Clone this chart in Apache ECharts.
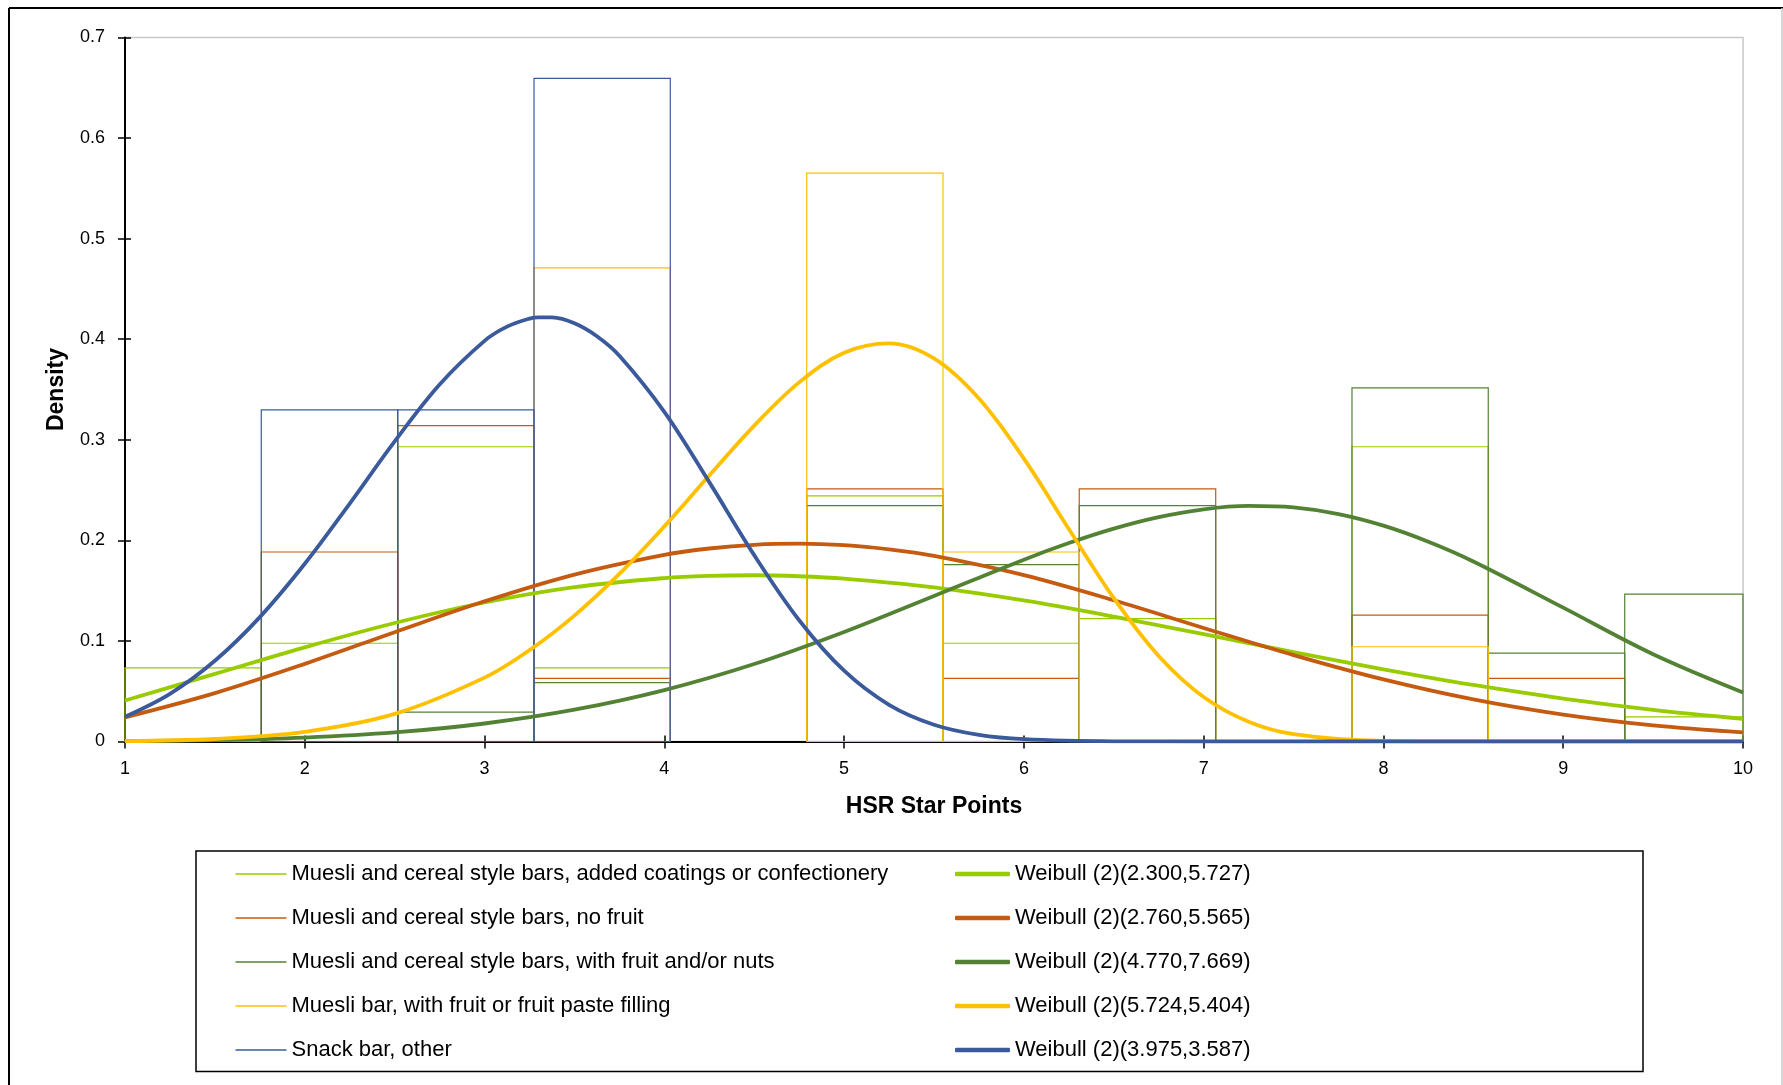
<!DOCTYPE html>
<html><head><meta charset="utf-8">
<script src="https://cdn.jsdelivr.net/npm/echarts@6/dist/echarts.min.js"></script>
<style>html,body{margin:0;padding:0;background:#fff}#c{width:1783px;height:1085px}</style>
</head><body><div id="c"></div>
<script>
// ---- histogram bins (HSR star points) ----
const binEdges = [1, 1.758, 2.517, 3.275, 4.033, 4.792, 5.55, 6.308, 7.067, 7.825, 8.583, 9.342, 10.1];

// ---- histogram densities per bin ----
const histNames = [
  'Muesli and cereal style bars, added coatings or confectionery',
  'Muesli and cereal style bars, no fruit',
  'Muesli and cereal style bars, with fruit and/or nuts',
  'Muesli bar, with fruit or fruit paste filling',
  'Snack bar, other'
];
const coatingsHist = [0.0733, 0.0977, 0.2931, 0.0733, 0, 0.2442, 0.0977, 0.1221, 0, 0.2931, 0, 0.0244];
const noFruitHist  = [0, 0.1884, 0.3140, 0.0628, 0, 0.2512, 0.0628, 0.2512, 0, 0.1256, 0.0628, 0];
const fruitNutHist = [0, 0, 0.0293, 0.0586, 0, 0.2345, 0.1758, 0.2345, 0, 0.3517, 0.0879, 0.1465];
const pasteHist    = [0, 0, 0, 0.4710, 0, 0.5652, 0.1884, 0, 0, 0.0942, 0, 0];
const snackHist    = [0, 0.3297, 0.3297, 0.6594, 0, 0, 0, 0, 0, 0, 0, 0];

// ---- fitted Weibull density curves (x, density) ----
const curveNames = [
  'Weibull (2)(2.300,5.727)',
  'Weibull (2)(2.760,5.565)',
  'Weibull (2)(4.770,7.669)',
  'Weibull (2)(5.724,5.404)',
  'Weibull (2)(3.975,3.587)'
];
const coatingsX = [1,1.5,2,2.5,3,3.5,4,4.25,4.5,4.75,5,5.5,6,6.5,7,7.5,8,8.5,9,9.5,10];
const coatingsCurve = [0.0408,0.0672,0.0936,0.1178,0.1382,0.1534,0.1625,0.1647,0.1653,0.1643,0.1619,0.1532,0.1402,0.1242,0.1067,0.0888,0.0718,0.0562,0.0427,0.0315,0.0226];
const noFruitX = [1,1.5,2,2.5,3,3.5,4,4.25,4.5,4.75,5,5.25,5.5,6,6.5,7,7.5,8,8.5,9,9.5,10];
const noFruitCurve  = [0.0240,0.0481,0.0772,0.1087,0.1394,0.1660,0.1856,0.1919,0.1956,0.1967,0.1952,0.1910,0.1845,0.1654,0.1404,0.1129,0.0859,0.0617,0.0418,0.0267,0.0160,0.0090];
const fruitNutX = [1,1.5,2,2.5,3,3.5,4,4.5,5,5.5,6,6.25,6.5,6.75,7,7.25,7.5,7.75,8,8.25,8.5,9,9.5,10];
const fruitNutCurve = [0.0003,0.0013,0.0039,0.0090,0.0179,0.0316,0.0511,0.0770,0.1089,0.1447,0.1808,0.1973,0.2117,0.2231,0.2309,0.2342,0.2327,0.2261,0.2146,0.1986,0.1790,0.1331,0.0868,0.0488];
const pasteX = [1,1.5,2,2.5,3,3.25,3.5,3.75,4,4.25,4.5,4.75,5,5.25,5.5,5.75,6,6.25,6.5,6.75,7,7.25,7.5,8,8.5,9,9.5,10];
const pasteCurve = [0.0004,0.0025,0.0096,0.0274,0.0635,0.0908,0.1252,0.1666,0.2139,0.2644,0.3141,0.3571,0.3866,0.3959,0.3809,0.3410,0.2813,0.2113,0.1426,0.0851,0.0442,0.0196,0.0073,0.0005,0,0,0,0];
const snackX = [1,1.25,1.5,1.75,2,2.25,2.5,2.75,3,3.125,3.25,3.3,3.375,3.5,3.625,3.75,4,4.25,4.5,4.75,5,5.25,5.5,5.75,6,6.5,7,7.5,8,8.5,9,9.5,10];
const snackCurve = [0.0246,0.0474,0.0803,0.1237,0.1767,0.2366,0.2984,0.3550,0.3984,0.4125,0.4205,0.4218,0.4217,0.4159,0.4030,0.3836,0.3278,0.2579,0.1853,0.1206,0.0704,0.0365,0.0167,0.0066,0.0023,0.0002,0,0,0,0,0,0,0];

// ---- axis ticks ----
const xTicks = {min: 1, max: 10, interval: 1};
const yTicks = {min: 0, max: 0.7, interval: 0.1};

const colors = ['#99CC00', '#C55A11', '#548235', '#FFC000', '#3B5A9C'];
const FONT = 'Liberation Sans';

const hists = [coatingsHist, noFruitHist, fruitNutHist, pasteHist, snackHist];
const curves = [[coatingsX, coatingsCurve], [noFruitX, noFruitCurve], [fruitNutX, fruitNutCurve], [pasteX, pasteCurve], [snackX, snackCurve]];

function barRenderer(color) {
  return function (params, api) {
    const p0 = api.coord([api.value(0), api.value(2)]);
    const p1 = api.coord([api.value(1), 0]);
    const cs = params.coordSys;
    const shape = echarts.graphic.clipRectByRect(
      {x: p0[0], y: p0[1], width: p1[0] - p0[0], height: p1[1] - p0[1]},
      {x: cs.x, y: cs.y, width: cs.width, height: cs.height});
    if (!shape) return;
    return {type: 'rect', shape: shape, style: {fill: 'none', stroke: color, lineWidth: 1.2}};
  };
}

const series = [];
hists.forEach((h, i) => {
  const data = [];
  h.forEach((v, b) => { if (v > 0) data.push([binEdges[b], binEdges[b + 1], v]); });
  series.push({
    name: histNames[i], type: 'custom', renderItem: barRenderer(colors[i]),
    encode: {x: [0, 1], y: 2}, data: data, z: 2,
    itemStyle: {color: colors[i]}, animation: false
  });
});
curves.forEach((c, i) => {
  series.push({
    name: curveNames[i], type: 'line', smooth: 0.35, symbol: 'none', showSymbol: false,
    data: c[0].map((x, k) => [x, c[1][k]]), z: 3,
    lineStyle: {color: colors[i], width: 3.8}, itemStyle: {color: colors[i]}, animation: false
  });
});

const axisLabelStyle = {fontSize: 18, color: '#000', fontFamily: FONT};
const nameStyle = {fontSize: 23, fontWeight: 'bold', color: '#000', fontFamily: FONT};

const option = {
  animation: false,
  backgroundColor: '#fff',
  grid: {left: 125, top: 37.5, width: 1618, height: 704, show: true, borderColor: '#c8c8c8', borderWidth: 1.5},
  xAxis: [
    {type: 'value', min: xTicks.min, max: xTicks.max, interval: xTicks.interval, position: 'bottom',
     axisLine: {show: true, onZero: false, lineStyle: {color: '#000', width: 2}},
     axisTick: {show: true, length: 7, lineStyle: {color: '#000', width: 1.5}},
     axisLabel: Object.assign({margin: 19}, axisLabelStyle),
     splitLine: {show: false},
     name: 'HSR Star Points', nameLocation: 'middle', nameGap: 53.5, nameTextStyle: nameStyle},
    {type: 'value', min: xTicks.min, max: xTicks.max, interval: xTicks.interval, position: 'bottom',
     axisLine: {show: false}, axisTick: {show: true, inside: true, length: 6, lineStyle: {color: '#000', width: 1.5}},
     axisLabel: {show: false}, splitLine: {show: false}}
  ],
  yAxis: [
    {type: 'value', min: yTicks.min, max: yTicks.max, interval: yTicks.interval, position: 'left',
     axisLine: {show: true, onZero: false, lineStyle: {color: '#000', width: 2}},
     axisTick: {show: true, length: 7, lineStyle: {color: '#000', width: 1.5}},
     axisLabel: Object.assign({margin: 20}, axisLabelStyle),
     splitLine: {show: false},
     name: 'Density', nameLocation: 'middle', nameRotate: 90, nameGap: 57, nameTextStyle: nameStyle},
    {type: 'value', min: yTicks.min, max: yTicks.max, interval: yTicks.interval, position: 'left',
     axisLine: {show: false}, axisTick: {show: true, inside: true, length: 6, lineStyle: {color: '#000', width: 1.5}},
     axisLabel: {show: false}, splitLine: {show: false}}
  ],
  legend: [
    {orient: 'vertical', left: 230.5, top: 858, itemWidth: 51, itemHeight: 1.5, itemGap: 22, icon: 'rect',
     selectedMode: false, textStyle: {fontSize: 22, lineHeight: 22, color: '#000', fontFamily: FONT},
     data: histNames.map((n, i) => ({name: n, icon: 'rect', itemStyle: {color: colors[i], borderWidth: 0}}))},
    {orient: 'vertical', left: 950, top: 858, itemWidth: 55, itemHeight: 4.5, itemGap: 22, icon: 'roundRect',
     selectedMode: false, textStyle: {fontSize: 22, lineHeight: 22, color: '#000', fontFamily: FONT},
     data: curveNames.map((n, i) => ({name: n, icon: 'roundRect', itemStyle: {color: colors[i], borderWidth: 0}}))}
  ],
  graphic: [
    {type: 'line', shape: {x1: 9, y1: 8, x2: 1783, y2: 8}, style: {stroke: '#000', lineWidth: 2}, silent: true},
    {type: 'line', shape: {x1: 9, y1: 8, x2: 9, y2: 1085}, style: {stroke: '#000', lineWidth: 2}, silent: true},
    {type: 'line', shape: {x1: 1782, y1: 8, x2: 1782, y2: 1085}, style: {stroke: '#c8c8c8', lineWidth: 1.5}, silent: true},
    {type: 'rect', shape: {x: 196, y: 851, width: 1447, height: 220.5}, style: {fill: 'none', stroke: '#000', lineWidth: 1.5}, silent: true}
  ],
  series: series
};

const chart = echarts.init(document.getElementById('c'), null, {renderer: 'canvas'});
chart.setOption(option);
</script>
</body></html>
